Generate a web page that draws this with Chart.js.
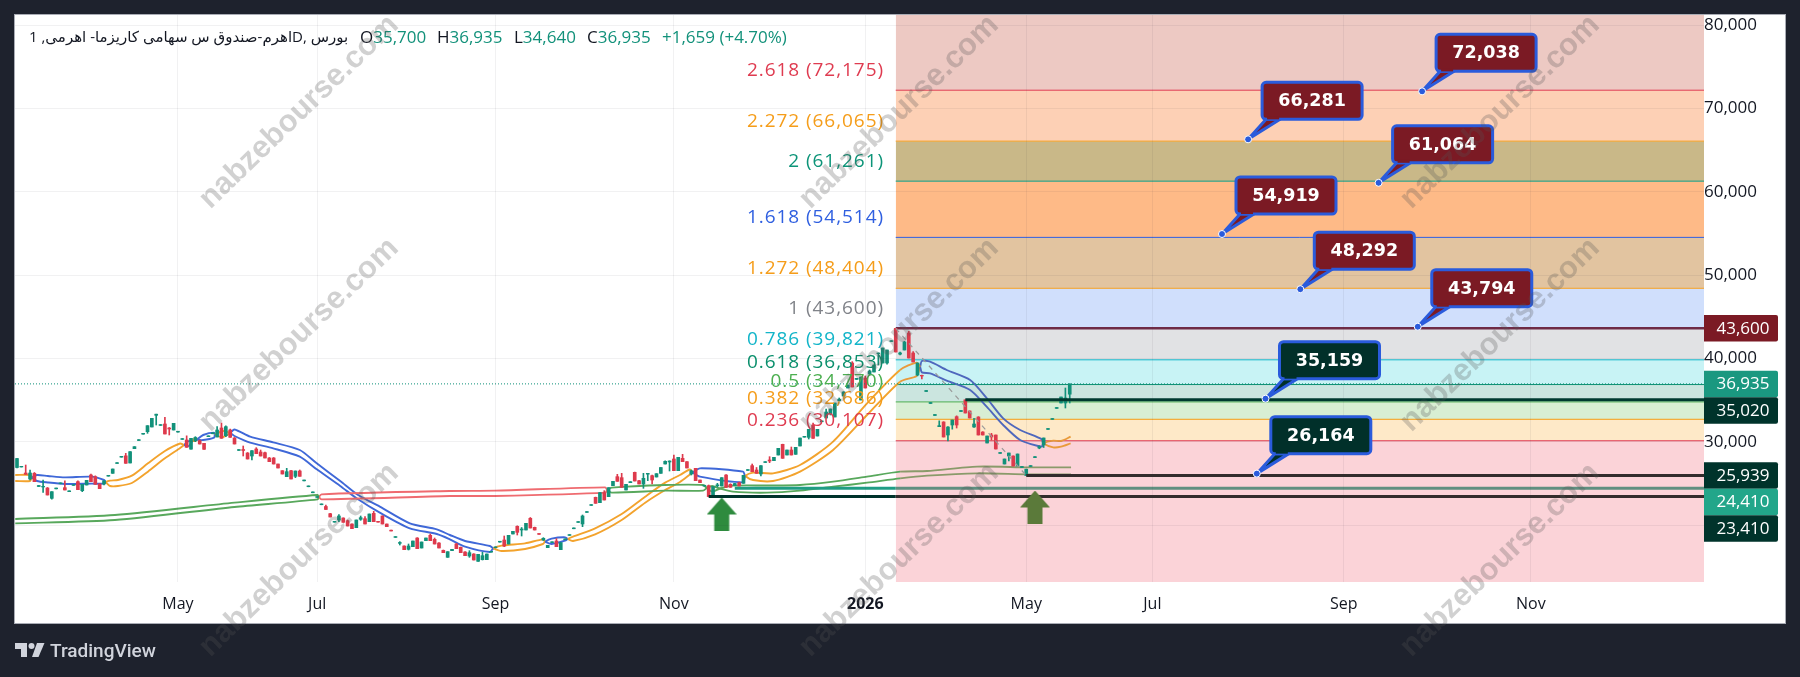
<!DOCTYPE html>
<html>
<head>
<meta charset="utf-8">
<title>اهرم 1D</title>
<style>
  html, body { margin: 0; padding: 0; background: #1e222d; }
  canvas { display: block; }
</style>
<script src="https://cdn.jsdelivr.net/npm/chart.js@4/dist/chart.umd.js"></script>
</head>
<body>
<canvas id="chart" width="1800" height="677"></canvas>
<script>
// Daily OHLC, one entry per session.
const barOpen = [
26900,26960,26240,25520,26200,24620,24560,24440,23200,24340,
24950,24480,24000,24750,25200,24120,24800,26000,25800,24920,
24920,25860,26200,27380,28140,28300,27440,29160,30140,30900,
31200,31760,33160,31950,32120,31640,31400,31150,30270,30200,
29100,30100,30120,29800,30600,30950,30560,31640,30720,31400,
30440,28950,29060,28640,28280,29120,28760,28680,28040,28040,
27320,26520,25800,26520,25840,26480,25300,24590,23870,23310,
22430,22220,21360,20340,20600,20840,20520,20120,19680,20680,
20760,20400,21400,20440,21080,20120,19380,18510,17800,17480,
17080,17400,18440,17240,18120,18760,18280,17840,16960,16120,
16920,17720,17320,16760,16280,16520,15640,15840,15840,16740,
17270,17950,18200,17720,18920,19840,19400,19400,20800,19720,
18980,18200,17280,17890,18080,17040,18230,18750,19550,20310,
20120,21510,22350,23320,22680,23880,23400,24720,25800,25680,
24200,25080,26320,25320,24920,26100,25920,25760,26200,27320,
27560,27920,26520,28000,27600,26120,26800,25400,24670,24720,
23600,24700,24680,26000,24880,24740,25080,25000,26550,27120,
26600,26120,27500,27800,27720,28400,29680,28400,29000,28480,
29480,30540,30520,32000,30680,32390,32840,33320,32960,34900,
35480,36440,39440,37470,35000,37640,38120,38360,40560,39440,
39440,42020,43600,40500,41000,43040,40640,38000,37960,36020,
34580,33140,31800,32360,30800,32000,33000,33620,35020,33680,
31760,32960,31160,29840,30800,30800,28590,27320,28280,28280,
27080,26900,25939,27020,28090,29240,29600,31470,32670,33990,
34640,34640,35700];
const barHigh = [
28000,27040,27200,26600,26300,24740,25400,24500,24000,24440,
25050,25300,24100,24850,25300,24880,25360,26100,25900,24950,
25300,25960,26720,27480,28240,28600,28800,29400,30240,31000,
31920,32800,33300,32050,32920,31700,32200,31250,30370,30700,
30400,30600,30200,29800,30700,31060,31800,32240,31900,31500,
30500,29050,29480,28700,28920,29280,29000,28750,28100,28100,
27320,26520,26800,26550,26480,26600,25400,24690,23970,23410,
22530,22400,21400,20440,21240,20860,20600,20150,20600,21080,
21000,21320,21640,20440,21100,20120,19380,18610,18000,17500,
17720,18080,18480,17960,18440,18920,18440,17880,17000,16800,
17080,17800,17360,16800,16920,16560,16480,16720,16520,16840,
17370,18050,18680,18760,19240,19900,19700,20200,20900,19750,
18980,18480,17560,17990,18360,17880,18330,18850,19650,20410,
21200,21610,22450,23350,23880,24120,24480,25240,26080,26200,
24880,25200,26350,25350,26200,26200,26000,26160,26900,27700,
27700,28400,28120,28480,27600,26600,26800,25400,24770,24800,
24600,25000,25680,26050,24950,25000,25150,25960,26650,27320,
26900,27120,27600,28200,28120,29200,29700,29000,29360,29320,
30440,30640,31480,32240,31480,32490,33900,33920,34640,35240,
36000,36800,39600,37600,37760,37880,38600,39200,40640,41240,
41000,42120,43600,40760,42040,43240,40800,39440,38000,36140,
34700,33260,32500,32400,31800,32600,33100,33740,35020,33700,
32800,33000,31200,30680,31000,30800,28700,27920,28640,28300,
28520,27020,26700,27130,28200,29500,30440,31580,32780,34100,
35360,36440,36935];
const barLow = [
26840,26960,26080,25400,25200,24620,23900,23600,23100,24340,
24950,24200,24000,24750,24240,24000,24800,25200,24880,24360,
24800,25860,26200,27380,28140,27400,27440,29160,30140,30900,
31000,31760,32000,31950,30920,30800,31400,31150,30270,29320,
29100,30000,29720,29080,30600,30950,30560,30400,30600,30520,
29720,28950,28280,27920,27800,28560,28280,28040,27600,27320,
26840,26120,25800,25520,25680,25840,25300,24590,23870,23310,
22430,21860,20960,20340,20400,20320,19880,19560,19680,20560,
20120,20400,20400,20340,20120,19800,19280,18510,17600,17040,
17000,17400,17160,17240,18120,18120,17720,17240,16680,16120,
16920,17160,16680,16320,16120,15800,15640,15800,15840,16740,
17270,17950,17400,17720,18920,18800,18680,19400,19640,19400,
18880,18150,17280,17890,17400,17040,18230,18750,19550,20310,
19800,21510,22350,22600,22680,23000,23400,24720,25240,24520,
24200,25080,25280,24920,24400,25320,24920,25760,26200,27320,
26480,26520,26520,27600,26840,26000,25320,25080,24670,23410,
23600,24560,24680,24520,24520,24740,24680,25000,26550,26400,
26200,25900,27500,27480,27720,28400,28000,28400,28400,28480,
29480,30540,30320,30400,30680,32390,32840,33200,32960,34880,
35480,36440,36560,37470,35000,36440,38000,38360,39200,39440,
39300,42020,40760,40400,41000,40040,39560,37900,37520,36020,
34580,33140,31800,30560,30080,31500,31640,33620,33440,32840,
31700,30800,30800,29840,30200,29120,28590,27320,27680,27080,
27080,26900,25939,27020,28090,29150,29300,31470,32670,33990,
34640,34040,34640];
const barClose = [
27980,27040,26080,26240,25200,24740,24640,23600,24000,24440,
25050,24200,24100,24850,24240,24880,25360,25200,24880,24360,
25300,25960,26720,27480,28240,27400,28800,29400,30240,31000,
31920,32800,33300,32050,30920,31520,32200,31250,30370,29320,
30400,30500,29720,29080,30700,31060,31400,30400,31800,30520,
29720,29050,28940,27920,28920,28560,28280,28040,27600,27320,
26840,26120,26400,25520,26480,25840,25400,24690,23970,23410,
22530,21860,20960,20440,21080,20320,19880,19560,20600,20880,
20120,21320,20400,20340,20120,19800,19280,18610,17900,17040,
17480,18080,17160,17960,18440,18120,17720,17240,16680,16800,
17080,17160,16680,16320,16680,15800,16480,16320,16520,16840,
17370,18050,17480,18760,19240,19120,19520,20200,19640,19400,
18880,18400,17560,17990,17400,17880,18330,18850,19650,20410,
21080,21610,22450,22600,23880,23000,24480,25240,25240,24520,
24880,25200,25280,24920,25600,26200,25400,26160,26900,27640,
27680,26520,28120,27600,26840,26500,25320,25080,24770,23410,
24600,24820,25680,24520,24520,24980,24680,25960,26650,26400,
26200,27120,27600,27680,28120,29200,28000,29000,28400,29320,
30440,30640,31480,30400,31480,32490,33560,33920,34640,35100,
35960,36800,36560,37600,37760,36440,38480,39200,40640,41240,
41000,42120,40760,40650,41960,40040,39560,39440,37880,36140,
34700,33260,31920,30560,31760,32600,32000,33740,33440,32840,
32120,30800,30800,30680,30560,29120,28700,27920,28640,27080,
28520,27020,26700,27130,28200,29400,30440,31580,32780,34100,
35360,35240,36935];

// Fast/slow moving-average ribbon, sampled at these bar positions.
const ribbonBars = [-0.4,3,3.4,4.6,7.1,11,17.2,20,20.4,21.4,23.2,26.4,30.1,34,37.5,38.4,39.5,40.3,41,41.4,42.8,45.3,45.5,47.4,49,50,53.6,58.9,65,68.9,74.3,78.4,83.4,90.3,96.5,99.5,103,108.7,109.5,111.4,116.8,120.9,121.4,122.9,126,126.6,127.8,132.9,139,144.4,149,152.4,154.7,155.3,157,166.9,167.4,169.2,173.8,180,187.6,195.4,203,206.8,207.6,208,209.9,213.7,219.1,222.9,226.7,230.6,235.6,235.9,238.2,240,242.2];
const ribbonFast = [26000,26000,25700,25280,25100,24920,24960,24960,25160,25320,25400,25920,27400,28880,29780,29600,29480,30080,30440,30260,30200,30480,30800,31280,31040,30680,29880,29200,28200,26680,24680,23080,21480,19600,18920,18280,17400,16760,17200,17520,17800,18280,18000,17720,18120,18320,18600,19600,21320,23400,25080,26000,26660,26300,25800,25120,25880,26280,26200,27200,30000,34600,38600,39480,38960,38320,38200,37320,36200,34200,32000,30200,29400,29800,30120,30080,30600];
const ribbonSlow = [25280,25280,25700,26000,25880,25720,25800,25400,25160,24680,24680,25040,26400,28000,29240,29600,30080,30080,30080,30260,30800,31080,30800,30560,31040,31460,30600,29920,29000,27400,25280,23600,22200,20200,19480,18800,18080,17480,17200,16880,17120,17720,18000,18360,18520,18320,18080,18880,20600,22680,24200,25160,26060,26300,26800,26400,25880,25400,25280,26400,29000,33200,37200,37880,38960,39680,39600,38600,37400,35240,32800,31400,30280,29800,29320,29400,29800];
const ribbonSwitches = [3.4,20.4,38.4,40.3,41.4,45.5,49,109.5,121.4,126.6,155.3,167.4,207.6,235.9];

// Long-period ribbon.
const longBars = [-0.4,22.5,50,69.1,69.4,70,99.5,109.9,135.2,135.7,136.7,149,157.7,158.6,159.8,161.6,164.6,172.4,180,187.6,195.4,203,209.2,220.7,232.2,242.3];
const longFast = [20720,21200,22680,23600,23360,23080,23480,23480,23880,24200,24480,24800,24800,24440,24000,24380,24720,24740,24800,25200,25800,26400,26480,27000,26920,26920];
const longSlow = [20200,20600,22160,23080,23360,23680,24080,24120,24520,24200,23880,24120,24120,24440,24680,24380,24000,23880,24120,24600,25080,25600,25920,26200,26080,26080];
const longSwitches = [69.4,135.7];

// Fibonacci extension levels, highest first.
const fibRatios = ['2.618','2.272','2','1.618','1.272','1','0.786','0.618','0.5','0.382','0.236'];
const fibPrices = [72175,66065,61261,54514,48404,43600,39821,36853,34770,32686,30107];
const fibLineColors = ['#e0394f','#f5a020','#0e9a80','#2f5de0','#f5a020','#7a7d86','#10b5c8','#0a8f70','#4caf50','#f39c12','#e0394f'];
const fibLabelColors = ['#df3b50','#f59d1a','#0c9478','#2f5fe0','#f59d1a','#808389','#12b5c9','#0a8f6c','#4caf50','#f59d1a','#df3b50'];
const fibZoneColors = ['#edc9c3','#fdd0b5','#c9b888','#feba87','#e2c4a0','#d0dffc','#e1e2e4','#c8f3f5','#cbe5df','#d8eed3','#fee9c8','#fbd3d8'];
const fibStartBar = 202;

// Swing drawn through the extension, top to bottom.
const swingBars = [202,232];
const swingPrices = [43600,25939];

// Horizontal support and resistance rays.
const rayPrices = [35020,25939,24410,23410];
const rayStartBars = [218,232,165,159];
const rayColorsBefore = ['#00392f','#00392f','#1f9d84','#00332b'];
const rayColorsAfter = ['#00392f','#332c2c','#5f8f80','#332c2c'];

// Callouts placed on the extension.
const calloutPrices = [72038,66281,61064,54919,48292,43794,35159,26164];
const calloutBars = [323,283,313,277,295,322,287,285];
const calloutFills = ['#7b1a24','#7b1a24','#7b1a24','#7b1a24','#7b1a24','#7b1a24','#01302a','#01302a'];

// Price tags on the right axis.
const tagPrices = [43600,36935,35020,25939,24410,23410];
const tagFills = ['#7b1a24','#1a9880','#00332b','#00332b','#22a68a','#00332b'];

// Entry arrows under the two swing lows.
const arrowBars = [162,234];
const arrowPrices = [21320,22160];
const arrowColors = ['#2e8b3e','#5b7a3a'];

const lastPrice = 36935;
const priceTicks = [20000,30000,40000,50000,60000,70000,80000];
const timeTickBars = [37,69,110,151,195,232,261,305,348];
const timeTickLabels = ['May','Jul','Sep','Nov','2026','May','Jul','Sep','Nov'];

const symbolTitle = 'اهرم-صندوق س سهامی کاریزما- اهرمی, 1D, بورس';
const quoteParts = [['O','35,700',360],['H','36,935',437],['L','34,640',514],['C','36,935',587]];
const quoteChange = ['+1,659 (+4.70%)',662];
const watermarkText = 'nabzebourse.com';
const watermarkCols = [299,899,1500];
const watermarkRows = [112,335,560];

const UP = '#12917a', DOWN = '#de3a4c';
const FONT = '"Open Sans", "DejaVu Sans", sans-serif';
const xMin = -0.46, xMax = 387.8;

const pairs = (xs, ys) => xs.map((x, i) => ({ x, y: ys[i] }));

// Colour per segment, alternating between two hues at each switch bar.
function regimeColor(switches, hueA, hueB, inZoneA, inZoneB) {
  return ctx => {
    const mid = (ctx.p0.parsed.x + ctx.p1.parsed.x) / 2;
    let n = 0;
    for (const s of switches) if (mid > s) n++;
    const zone = mid >= fibStartBar;
    return n % 2 === 0 ? (zone ? inZoneA : hueA) : (zone ? inZoneB : hueB);
  };
}
const ribbonSegment = regimeColor(ribbonSwitches, '#f3a32d', '#3f68d8', '#e99a3a', '#4f68bd');
const longSegment = regimeColor(longSwitches, '#58a85c', '#ef6b70', '#8a9a6a', '#ef6b70');

function arrowImage(color) {
  const c = document.createElement('canvas');
  c.width = 30; c.height = 33;
  const g = c.getContext('2d');
  g.fillStyle = color;
  g.beginPath();
  g.moveTo(15, 0); g.lineTo(30, 17); g.lineTo(22.5, 17); g.lineTo(22.5, 33);
  g.lineTo(7.5, 33); g.lineTo(7.5, 17); g.lineTo(0, 17); g.closePath();
  g.fill();
  return c;
}

const datasets = [];

// Zone boundary above the top level; each level fills down to the next one.
datasets.push({
  type: 'line', order: 101, data: [{ x: fibStartBar, y: 81200 }, { x: xMax, y: 81200 }],
  borderWidth: 0, pointRadius: 0, fill: { target: '+1', above: fibZoneColors[0], below: fibZoneColors[0] }
});
fibPrices.forEach((p, i) => {
  const zone = fibZoneColors[i + 1];
  const isLast = i === fibPrices.length - 1;
  datasets.push({
    type: 'line', order: 100 - i / 100,
    data: [{ x: fibStartBar, y: p }, { x: xMax, y: p }],
    borderColor: p === 43600 ? '#6e2b46' : fibLineColors[i],
    borderWidth: p === 43600 ? 2.5 : 1,
    pointRadius: 0,
    fill: isLast ? { target: 'start', above: zone, below: zone }
                 : { target: '+1', above: zone, below: zone }
  });
});

// Moving-average ribbons.
[[longBars, longFast, longSegment], [longBars, longSlow, longSegment],
 [ribbonBars, ribbonFast, ribbonSegment], [ribbonBars, ribbonSlow, ribbonSegment]].forEach(([xs, ys, seg]) => {
  datasets.push({
    type: 'line', order: 60, data: pairs(xs, ys), borderWidth: 1.9, pointRadius: 0,
    tension: 0.25, borderColor: '#888', segment: { borderColor: seg }, fill: false
  });
});

// Candles: a thin bar for the wick, a wider one for the body.
const candleColors = barClose.map((c, i) => (c >= barOpen[i] ? UP : DOWN));
datasets.push({
  type: 'bar', order: 50, barThickness: 1, grouped: false,
  data: barHigh.map((h, i) => ({ x: i, y: [barLow[i], h] })),
  backgroundColor: candleColors
});
datasets.push({
  type: 'bar', order: 49, barThickness: 3, grouped: false,
  data: barClose.map((c, i) => ({ x: i, y: [Math.min(barOpen[i], c), Math.max(barOpen[i], c)] })),
  backgroundColor: candleColors
});

// Dashed swing line.
datasets.push({
  type: 'line', order: 45, data: pairs(swingBars, swingPrices), borderColor: '#9a9a9a',
  borderWidth: 1.2, borderDash: [5, 5], pointRadius: 0, fill: false
});

// Last-price dotted line.
datasets.push({
  type: 'line', order: 44, data: [{ x: xMin, y: lastPrice }, { x: xMax, y: lastPrice }],
  borderColor: '#0d8f78', borderWidth: 1, borderDash: [1, 2], pointRadius: 0, fill: false
});

// Support and resistance rays.
rayPrices.forEach((p, i) => {
  const stops = rayStartBars[i] < fibStartBar ? [rayStartBars[i], fibStartBar, xMax] : [rayStartBars[i], xMax];
  datasets.push({
    type: 'line', order: 43, data: stops.map(x => ({ x, y: p })),
    borderWidth: 3, pointRadius: 0, fill: false, borderColor: rayColorsAfter[i],
    segment: { borderColor: ctx => (ctx.p0.parsed.x < fibStartBar ? rayColorsBefore[i] : rayColorsAfter[i]) }
  });
});

// Entry arrows.
arrowBars.forEach((b, i) => {
  datasets.push({
    type: 'line', order: 42, showLine: false, data: [{ x: b, y: arrowPrices[i] }],
    pointStyle: arrowImage(arrowColors[i])
  });
});

function roundedRect(g, x, y, w, h, r) {
  g.beginPath();
  g.roundRect(x, y, w, h, r);
}

// Page frame, white panel and footer logo.
const framePlugin = {
  id: 'frame',
  beforeDraw(chart) {
    const g = chart.ctx;
    g.save();
    g.fillStyle = '#1e222d';
    g.fillRect(0, 0, chart.width, chart.height);
    g.fillStyle = '#ffffff';
    g.fillRect(15, 15, 1770, 608);
    g.strokeStyle = '#a9acb5';
    g.lineWidth = 1;
    g.strokeRect(14.5, 14.5, 1771, 609);

    g.fillStyle = '#d1d4dc';
    g.fill(new Path2D('M15 643h12v14h-6v-8h-6z'));
    g.beginPath(); g.arc(31.5, 646, 3, 0, Math.PI * 2); g.fill();
    g.fill(new Path2D('M37 643h7.5l-6 14h-6.5z'));
    g.font = '500 19px Roboto, sans-serif';
    g.textBaseline = 'middle';
    g.textAlign = 'left';
    g.fillText('TradingView', 50, 652);
    g.restore();
  }
};

// Labels, callouts, tags, legend line and the diagonal site marks.
const overlayPlugin = {
  id: 'overlay',
  afterDraw(chart) {
    const g = chart.ctx;
    const xs = chart.scales.x, ys = chart.scales.y;
    g.save();

    // Fibonacci labels sit just above their level.
    g.font = '19px ' + FONT;
    g.letterSpacing = '0.95px';
    g.textAlign = 'right';
    g.textBaseline = 'middle';
    fibPrices.forEach((p, i) => {
      g.fillStyle = fibLabelColors[i];
      const text = fibRatios[i] + ' (' + p.toLocaleString('en-US') + ')';
      const y = [20, 20, 20, 20, 20, 20, 20, 22, 20, 21, 20][i];
      g.fillText(text, 884, ys.getPixelForValue(p) - y);
    });
    g.letterSpacing = '0px';

    // Callouts: a box offset up-right from the anchored price.
    calloutPrices.forEach((p, i) => {
      const ax = xs.getPixelForValue(calloutBars[i]);
      const ay = ys.getPixelForValue(p);
      const bx = ax + 14, bw = 100, bh = 37, by = ay - 20 - bh;
      g.lineJoin = 'round';
      g.strokeStyle = '#2a5bdc';
      g.fillStyle = calloutFills[i];
      g.lineWidth = 3;
      g.beginPath();
      g.moveTo(bx + 4, by + bh); g.lineTo(ax, ay); g.lineTo(bx + 18, by + bh); g.closePath();
      g.fill(); g.stroke();
      roundedRect(g, bx, by, bw, bh, 4);
      g.fill(); g.stroke();
      g.fillStyle = calloutFills[i];
      g.fillRect(bx + 5, by + bh - 3, 12, 3);
      g.fillStyle = '#ffffff';
      g.font = 'bold 17.5px "DejaVu Sans", sans-serif';
      g.textAlign = 'center';
      g.fillText(p.toLocaleString('en-US'), bx + bw / 2, by + bh / 2 + 1);
      g.beginPath(); g.arc(ax, ay, 3.5, 0, Math.PI * 2);
      g.fillStyle = '#2a5bdc'; g.fill();
      g.lineWidth = 1; g.strokeStyle = '#ffffff'; g.stroke();
    });

    // Price tags pushed apart so they never overlap.
    let floor = -Infinity;
    const tagH = 26.5;
    tagPrices.forEach((p, i) => {
      const cy = Math.max(ys.getPixelForValue(p), floor + tagH);
      floor = cy;
      g.fillStyle = tagFills[i];
      roundedRect(g, 1704, cy - tagH / 2, 74, tagH, [0, 2, 2, 0]);
      g.fill();
      g.fillStyle = '#ffffff';
      g.font = '17px ' + FONT;
      g.textAlign = 'center';
      g.fillText(p.toLocaleString('en-US'), 1743, cy + 0.5);
    });

    // Legend line.
    g.textAlign = 'left';
    g.font = '15px ' + FONT;
    g.fillStyle = '#131722';
    g.direction = 'ltr';
    g.fillText(symbolTitle, 29, 38);
    g.font = '17px ' + FONT;
    quoteParts.forEach(([k, v, x]) => {
      g.fillStyle = '#131722';
      g.fillText(k, x, 38);
      const w = g.measureText(k).width;
      g.fillStyle = UP;
      g.fillText(v, x + w, 38);
    });
    g.fillStyle = UP;
    g.fillText(quoteChange[0], quoteChange[1], 38);

    // Site marks over everything, including the frame.
    g.font = 'bold 31px "Liberation Sans", sans-serif';
    g.textAlign = 'center';
    g.fillStyle = 'rgba(86,86,86,0.27)';
    watermarkCols.forEach(cx => watermarkRows.forEach(cy => {
      g.save();
      g.translate(cx, cy);
      g.rotate(-44 * Math.PI / 180);
      g.fillText(watermarkText, 0, 0);
      g.restore();
    }));
    g.restore();
  }
};

new Chart(document.getElementById('chart'), {
  type: 'bar',
  data: { datasets },
  plugins: [framePlugin, overlayPlugin],
  options: {
    responsive: false,
    animation: false,
    events: [],
    layout: { padding: { left: 15, top: 15, right: 15, bottom: 54 } },
    plugins: { legend: { display: false }, tooltip: { enabled: false } },
    scales: {
      x: {
        type: 'linear', min: xMin, max: xMax, offset: false,
        afterBuildTicks: s => { s.ticks = timeTickBars.map(value => ({ value })); },
        afterFit: s => { s.height = 41; },
        grid: { color: 'rgba(42,46,57,0.065)', z: 1, drawTicks: false, offset: false },
        border: { display: false },
        ticks: {
          autoSkip: false, maxRotation: 0, padding: 13, color: '#131722',
          font: ctx => ({ family: FONT, size: 16, weight: ctx.tick && ctx.tick.value === 195 ? 'bold' : 'normal' }),
          callback: v => timeTickLabels[timeTickBars.indexOf(v)]
        }
      },
      y: {
        type: 'linear', position: 'right', min: 13160, max: 81200,
        afterBuildTicks: s => { s.ticks = priceTicks.map(value => ({ value })); },
        afterFit: s => { s.width = 81; },
        grid: { color: 'rgba(42,46,57,0.065)', z: 1, drawTicks: false },
        border: { display: false },
        ticks: {
          autoSkip: false, padding: 0, crossAlign: 'center', color: '#131722',
          font: { family: FONT, size: 17 },
          callback: v => (v === 20000 ? '' : v.toLocaleString('en-US'))
        }
      }
    }
  }
});
</script>
</body>
</html>
